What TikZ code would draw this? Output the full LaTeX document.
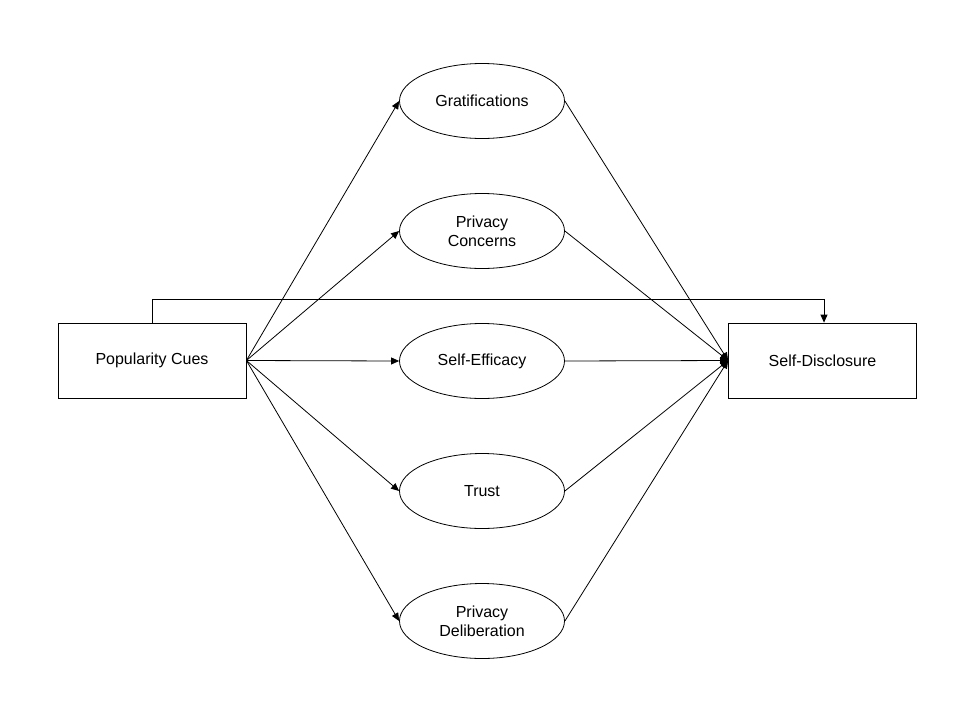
\documentclass[tikz,border=0pt]{standalone}
\usepackage{fontspec}
\setmainfont{Liberation Sans}
\usetikzlibrary{shapes.geometric,arrows.meta}
\begin{document}
\begin{tikzpicture}[x=1pt,y=-1pt,
  every node/.style={font=\fontsize{16}{19}\selectfont, align=center},
  boxnode/.style={draw, line width=0.8pt, minimum width=188pt, minimum height=75pt, inner sep=0pt},
  ellnode/.style={draw, ellipse, line width=0.8pt, minimum width=165pt, minimum height=75pt, inner sep=0pt},
  conn/.style={line width=0.8pt, -{Triangle[length=8pt,width=7pt]}}]
\useasboundingbox (0,0) rectangle (960,720);
\node[boxnode] (pc) at (152,360.5) {Popularity Cues};
\node[boxnode] (sd) at (822.5,360.5) {Self-Disclosure};
\node[ellnode] (g) at (482,101) {Gratifications};
\node[ellnode] (c) at (482,231) {Privacy\\Concerns};
\node[ellnode] (e) at (482,361) {Self-Efficacy};
\node[ellnode] (t) at (482,491) {Trust};
\node[ellnode] (d) at (482,621) {Privacy\\Deliberation};
\foreach \n in {g,c,e,t,d}{
  \draw[conn] (pc.east) -- (\n.west);
  \draw[conn] (\n.east) -- (sd.west);
}
\coordinate (tl) at (152,299);
\coordinate (tr) at (824,299);
\draw[conn] (pc.north) -- (tl) -- (tr) -- (sd.north -| tr);
\end{tikzpicture}
\end{document}
